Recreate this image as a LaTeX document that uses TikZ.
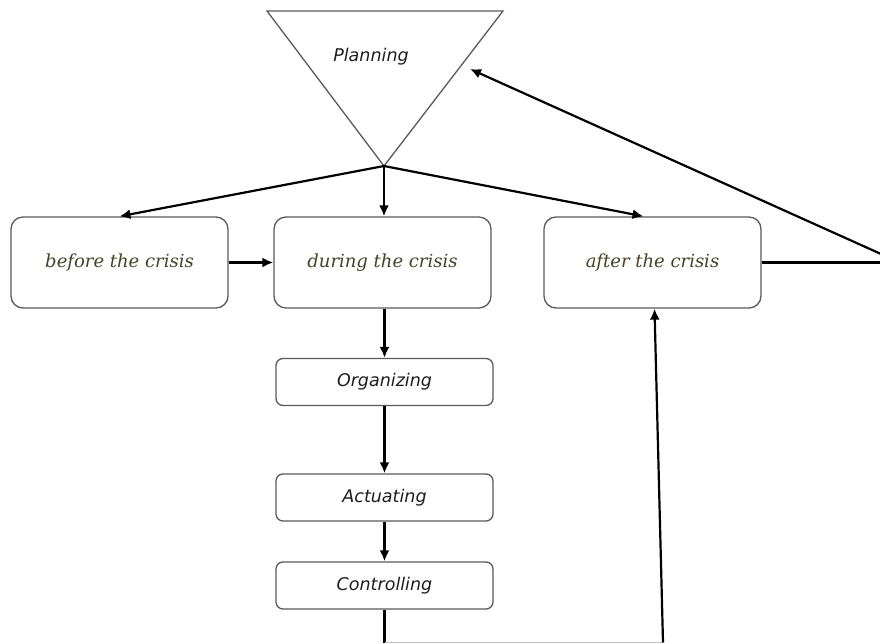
\documentclass[tikz,border=0pt]{standalone}
\usepackage{fontspec}
\setmainfont{DejaVu Sans}
\newfontfamily\boxserif{DejaVu Serif}
\usetikzlibrary{arrows.meta}
\definecolor{olivetext}{RGB}{70,66,40}
\definecolor{bordergray}{RGB}{90,90,90}
\definecolor{sanstext}{RGB}{30,30,30}
\tikzset{
  x=1pt,y=1pt,
  bigbox/.style={draw=bordergray,line width=1.3pt,rounded corners=12pt,minimum width=217pt,minimum height=91pt,inner sep=0pt,fill=white,font=\boxserif\itshape\fontsize{18}{21}\selectfont,text=olivetext},
  smallbox/.style={draw=bordergray,line width=1.3pt,rounded corners=7pt,minimum width=217pt,minimum height=47pt,inner sep=0pt,fill=white,font=\itshape\fontsize{17.5}{20}\selectfont,text=sanstext},
  conn/.style={line width=2.2pt,-{Latex[length=11pt,width=10pt]}},
  plainconn/.style={line width=2.2pt},
}
\begin{document}
\begin{tikzpicture}
\useasboundingbox[fill=white] (0,0) rectangle (880,-644);
% triangle
\coordinate (tl) at (267,-11);
\coordinate (tr) at (503,-11);
\coordinate (apex) at (384,-166);
\draw[bordergray,line width=1.3pt,line join=miter] (tl) -- (tr) -- (apex) -- cycle;
\node[font=\itshape\fontsize{17.5}{20}\selectfont,text=sanstext] (plan) at (371,-57) {Planning};
\coordinate (planin) at (470,-69);
% boxes
\node[bigbox] (before) at (119.5,-262.5) {before the crisis};
\node[bigbox] (during) at (382.5,-262.5) {during the crisis};
\node[bigbox] (after) at (652.5,-262.5) {after the crisis};
\node[smallbox] (org) at (384.5,-382) {Organizing};
\node[smallbox] (act) at (384.5,-497.5) {Actuating};
\node[smallbox] (ctrl) at (384.5,-585.5) {Controlling};
% connectors
\draw[conn] (apex) -- (before.north);
\draw[conn] (apex) -- (apex |- during.north);
\draw[conn] (apex) -- ([xshift=-9pt]after.north);
\draw[conn] (before.east) -- (during.west);
\draw[conn] (org.north |- during.south) -- (org.north);
\draw[conn] (org.south) -- (act.north);
\draw[conn] (act.south) -- (ctrl.north);
\coordinate (b1) at (384.5,-642.5);
\coordinate (b2) at (663,-642.5);
\draw[plainconn] (ctrl.south) -- (b1);
\draw[line width=1.5pt,black!25] (b1) -- (b2);
\draw[conn] (b2) -- ([xshift=2pt]after.south);
\coordinate (r1) at (881,-262.5);
\coordinate (r2) at (881,-254);
\draw[plainconn] (after.east) -- (r1);
\draw[conn] (r2) -- (planin);
\end{tikzpicture}
\end{document}
